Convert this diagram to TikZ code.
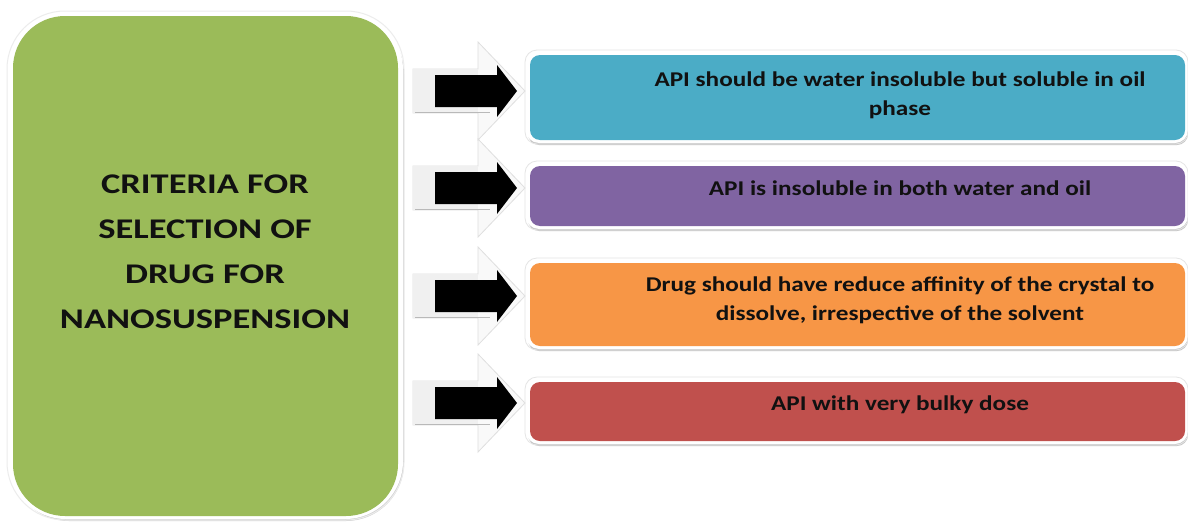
\documentclass[tikz,border=0pt]{standalone}
\usepackage{fontspec}
\setmainfont{Carlito}
\newfontfamily\leftfont[FakeStretch=1.28]{Carlito}
\newfontfamily\rightfont[FakeStretch=1.2]{Carlito}
\definecolor{cgreen}{HTML}{9BBB59}
\definecolor{cblue}{HTML}{4BACC6}
\definecolor{cpurple}{HTML}{8064A2}
\definecolor{corange}{HTML}{F79646}
\definecolor{cred}{HTML}{C0504D}
\definecolor{ctext}{HTML}{111111}
\tikzset{
  rimshadow/.style={fill=gray!45, rounded corners=11pt},
  rimedge/.style={draw=gray!20, line width=0.8pt, rounded corners=12pt},
  boxtext/.style={font=\rightfont\bfseries\fontsize{21}{29}\selectfont, text=ctext, align=center},
  blkarrow/.style={fill=black},
  ghostarrow/.style={fill=gray!5, draw=gray!25, line width=0.8pt},
}
\begin{document}
\begin{tikzpicture}[x=1pt,y=-1pt]
\useasboundingbox[fill=white] (0,0) rectangle (1188,522);
% left green box
\fill[gray!35, rounded corners=58pt] (11,16) rectangle (404,521);
\draw[gray!15, line width=1pt, rounded corners=58pt] (7,11) rectangle (404,520);
\fill[white, rounded corners=58pt] (8,12) rectangle (403,519);
\fill[cgreen, rounded corners=52pt] (13,16) rectangle (398,516);
\node[font=\leftfont\bfseries\fontsize{28.5}{45}\selectfont, text=ctext, align=center] (crit) at (205,252)
  {CRITERIA FOR\\SELECTION OF\\DRUG FOR\\NANOSUSPENSION};
% arrows
\foreach \y/\n in {91/1,188/2,296/3,403/4}{
  \coordinate (p\n) at (517,\y);
  \draw[ghostarrow] (413,\y-22) -- (478,\y-22) -- (478,\y-49) -- (525,\y) -- (478,\y+49) -- (478,\y+22) -- (413,\y+22) -- cycle;
  \fill[gray!12] (413,\y-22) rectangle (478,\y+22);
  \draw[gray!55, line width=0.8pt] (415,\y+21) -- (490,\y+21);
  \fill[blkarrow] (p\n) -- ++(-20,-26) -- ++(0,10) -- ++(-62,0) -- ++(0,32) -- ++(62,0) -- ++(0,10) -- cycle;
}
% right boxes
\foreach \t/\b/\c/\n in {55/140/cblue/1,166/226/cpurple/2,263/346/corange/3,382/441/cred/4}{
  \fill[rimshadow] (528,\t+2) rectangle (1188,\b+5);
  \fill[white, rounded corners=13pt] (526,\t-4) rectangle (1188,\b+3);
  \draw[rimedge] (525,\t-5) rectangle (1188,\b+4);
  \fill[\c, rounded corners=10pt] (530,\t) rectangle (1185,\b);
}
\node[boxtext] (t1) at (900,95) {API should be water insoluble but soluble in oil\\phase};
\node[boxtext] (t2) at (900,188) {API is insoluble in both water and oil};
\node[boxtext] (t3) at (900,300) {Drug should have reduce affinity of the crystal to\\dissolve, irrespective of the solvent};
\node[boxtext] (t4) at (900,405) {API with very bulky dose};
\end{tikzpicture}
\end{document}
